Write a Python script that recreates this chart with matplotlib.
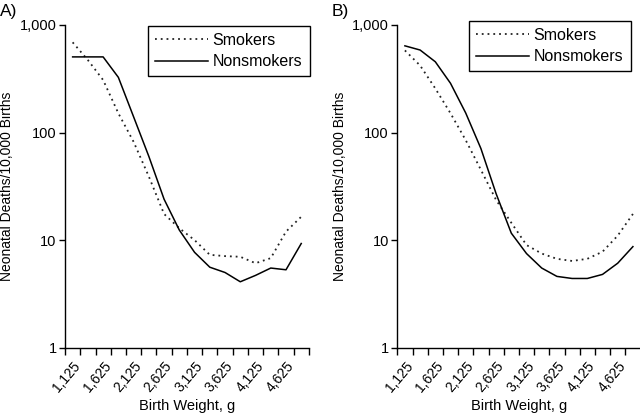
import numpy as np
import matplotlib.pyplot as plt

plt.rcParams['font.family'] = ['Liberation Sans', 'DejaVu Sans']

# Birth weight categories (g), 250 g steps
weights = [1125, 1375, 1625, 1875, 2125, 2375, 2625, 2875,
           3125, 3375, 3625, 3875, 4125, 4375, 4625, 4875]
tick_labels = [f"{w:,}" for w in weights[::2]]

# Panel A: observed rates (deaths / 10,000 births)
smokers_a = [690, 472, 308, 151, 82, 39, 17.5, 12.9,
             10, 7.3, 7.1, 7.0, 6.1, 6.8, 12, 16.5]
nonsmokers_a = [505, 505, 505, 326, 140, 60, 24, 12.4,
                7.7, 5.6, 5.0, 4.1, 4.7, 5.5, 5.3, 9.3]

# Panel B: smoothed rates
smokers_b = [580, 420, 257, 151, 85, 45, 23.6, 14.5,
             9.0, 7.5, 6.7, 6.4, 6.7, 7.8, 11, 17.5]
nonsmokers_b = [640, 585, 455, 287, 152, 71, 27, 11.6,
                7.5, 5.5, 4.6, 4.4, 4.4, 4.8, 6.1, 8.7]

fig = plt.figure(figsize=(6.4, 4.15), dpi=100)
ax_a = fig.add_axes([0.1016, 0.1622, 0.381, 0.7776])
ax_b = fig.add_axes([0.6208, 0.1622, 0.380, 0.7776])

panels = [(ax_a, smokers_a, nonsmokers_a, 'A)', (0.0, 0.99), (148, 25.7)),
          (ax_b, smokers_b, nonsmokers_b, 'B)', (0.518, 0.99), (469, 20.7))]

x = np.arange(len(weights))
for ax, sm, ns, tag, tagpos, legpos in panels:
    ax.plot(x, sm, color='#222222', lw=1.3, linestyle=(0, (1, 2.2)),
            label='Smokers')
    ax.plot(x, ns, color='black', lw=1.1, label='Nonsmokers')
    ax.set_yscale('log')
    ax.set_ylim(1, 1000)
    ax.set_xlim(-0.5, len(weights) - 0.5)
    ax.set_yticks([1, 10, 100, 1000])
    ax.set_yticklabels(['1', '10', '100', '1,000'], fontsize=10.5)
    ax.yaxis.set_minor_locator(plt.NullLocator())
    # tick marks between categories, labels on every second category
    ax.set_xticks(np.arange(-0.5, len(weights)))
    ax.set_xticklabels([])
    ax.set_xticks(x[::2], minor=True)
    ax.set_xticklabels(tick_labels, minor=True, rotation=50, ha='right',
                       rotation_mode='anchor', fontsize=10)
    ax.tick_params(axis='x', which='major', direction='out', length=5, width=1)
    ax.tick_params(axis='x', which='minor', length=0, pad=8)
    ax.tick_params(axis='y', direction='out', length=4, width=1, pad=2)
    for s in ['top', 'right']:
        ax.spines[s].set_visible(False)
    for s in ['left', 'bottom']:
        ax.spines[s].set_linewidth(1)
    ax.set_xlabel('Birth Weight, g', fontsize=10.5)
    ax.xaxis.set_label_coords(0.5, -0.158)
    ax.set_ylabel('Neonatal Deaths/10,000 Births', fontsize=10, labelpad=4)
    fig.text(tagpos[0], tagpos[1], tag, fontsize=12.5, ha='left', va='top')
    lx = legpos[0] / 640
    ly = 1 - legpos[1] / 415
    leg = ax.legend(loc='upper left', bbox_to_anchor=(lx, ly),
                    bbox_transform=fig.transFigure, fontsize=11.5,
                    handlelength=3.3, handletextpad=0.3, borderpad=0.45,
                    labelspacing=0.4, fancybox=False, framealpha=1,
                    edgecolor='black', borderaxespad=0)
    leg.get_frame().set_linewidth(1)

fig.savefig('out.png', dpi=100)
